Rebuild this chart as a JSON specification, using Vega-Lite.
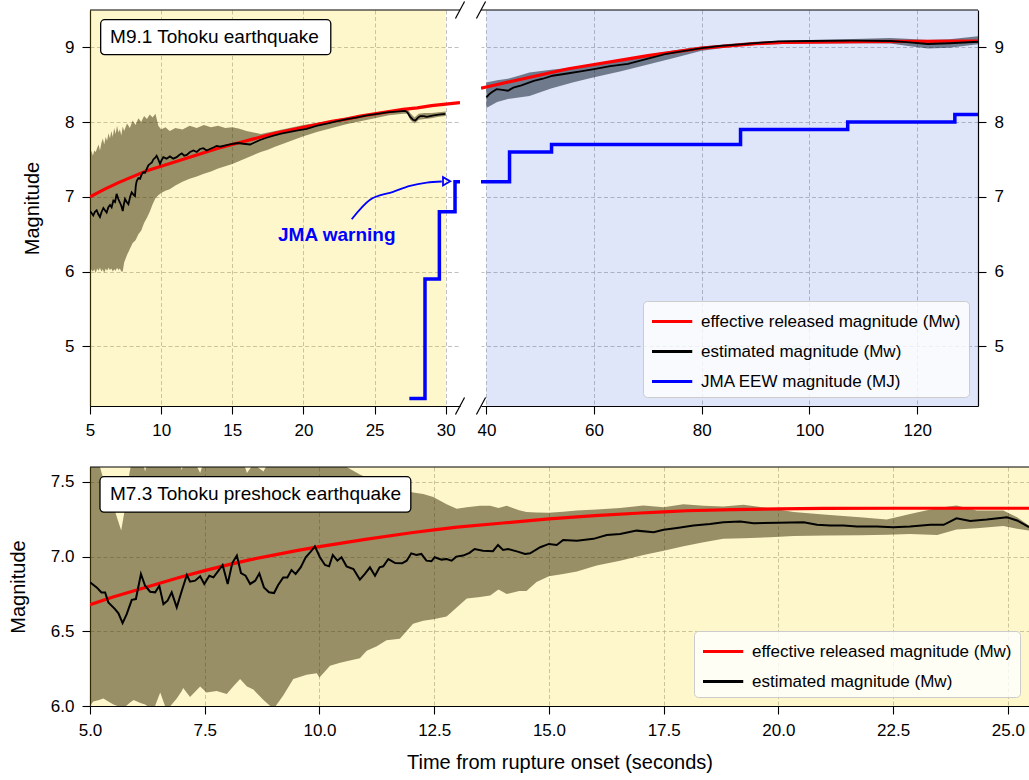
{
"$schema": "https://vega.github.io/schema/vega-lite/v6.json",
"background": "white",
"padding": {"left": 8, "top": 0, "right": 0, "bottom": 4},
"config": {
 "font": "Liberation Sans",
 "view": {"stroke": null},
 "axis": {"labelFontSize": 17, "labelColor": "black", "titleFontSize": 20, "titleFontWeight": "normal", "titleColor": "black", "tickColor": "black", "tickSize": 8, "tickWidth": 1.1, "domainColor": "black", "domainWidth": 1.2, "grid": true, "gridColor": "#b0b0b0", "gridDash": [4, 2.5], "gridWidth": 0.8, "labelPadding": 8, "titlePadding": 14, "labelFlush": false, "labelOverlap": false},
 "axisY": {"titlePadding": 22},
 "legend": {"symbolType": "M-1,0H2.5", "symbolSize": 529, "symbolStrokeWidth": 3, "labelFontSize": 17, "labelColor": "black", "fillColor": "rgba(255,255,255,0.8)", "strokeColor": "#cccccc", "cornerRadius": 4, "padding": 7.5, "rowPadding": 9, "labelOffset": 24.5, "labelLimit": 400, "offset": 9}
},
"datasets": {
 "effL": [{"t":5,"m":7.0},{"t":6,"m":7.1},{"t":7,"m":7.19},{"t":8,"m":7.27},{"t":9,"m":7.35},{"t":10,"m":7.41},{"t":11,"m":7.47},{"t":12,"m":7.53},{"t":13,"m":7.59},{"t":14,"m":7.65},{"t":15,"m":7.7},{"t":16,"m":7.75},{"t":17,"m":7.8},{"t":18,"m":7.85},{"t":19,"m":7.89},{"t":20,"m":7.93},{"t":21,"m":7.97},{"t":22,"m":8.01},{"t":23,"m":8.04},{"t":24,"m":8.08},{"t":25,"m":8.11},{"t":26,"m":8.14},{"t":27,"m":8.17},{"t":28,"m":8.19},{"t":29,"m":8.22},{"t":30,"m":8.24},{"t":31,"m":8.26}],
 "estL": [{"t":5.0,"m":6.81},{"t":5.12,"m":6.78},{"t":5.23,"m":6.75},{"t":5.35,"m":6.8},{"t":5.47,"m":6.82},{"t":5.58,"m":6.77},{"t":5.7,"m":6.73},{"t":5.82,"m":6.8},{"t":5.94,"m":6.85},{"t":6.05,"m":6.82},{"t":6.17,"m":6.79},{"t":6.29,"m":6.86},{"t":6.41,"m":6.89},{"t":6.52,"m":6.86},{"t":6.64,"m":6.95},{"t":6.76,"m":6.93},{"t":6.87,"m":7.04},{"t":6.99,"m":6.97},{"t":7.11,"m":6.92},{"t":7.2,"m":6.88},{"t":7.3,"m":6.81},{"t":7.38,"m":6.9},{"t":7.46,"m":6.97},{"t":7.58,"m":6.93},{"t":7.7,"m":6.9},{"t":7.82,"m":7.0},{"t":7.93,"m":7.06},{"t":8.05,"m":7.03},{"t":8.16,"m":7.01},{"t":8.22,"m":7.15},{"t":8.28,"m":7.21},{"t":8.4,"m":7.25},{"t":8.52,"m":7.24},{"t":8.63,"m":7.3},{"t":8.75,"m":7.33},{"t":8.86,"m":7.32},{"t":8.98,"m":7.37},{"t":9.1,"m":7.42},{"t":9.22,"m":7.44},{"t":9.35,"m":7.46},{"t":9.45,"m":7.5},{"t":9.57,"m":7.52},{"t":9.68,"m":7.55},{"t":9.8,"m":7.5},{"t":9.92,"m":7.44},{"t":10.03,"m":7.49},{"t":10.15,"m":7.53},{"t":10.38,"m":7.51},{"t":10.62,"m":7.54},{"t":10.85,"m":7.51},{"t":11.09,"m":7.53},{"t":11.27,"m":7.56},{"t":11.45,"m":7.58},{"t":11.62,"m":7.55},{"t":11.8,"m":7.56},{"t":12.03,"m":7.6},{"t":12.27,"m":7.62},{"t":12.5,"m":7.6},{"t":12.73,"m":7.64},{"t":12.96,"m":7.65},{"t":13.2,"m":7.62},{"t":13.43,"m":7.64},{"t":13.67,"m":7.66},{"t":13.9,"m":7.68},{"t":14.14,"m":7.67},{"t":14.6,"m":7.69},{"t":15.08,"m":7.71},{"t":15.4,"m":7.72},{"t":15.78,"m":7.71},{"t":16.25,"m":7.7},{"t":16.6,"m":7.73},{"t":16.95,"m":7.76},{"t":17.4,"m":7.79},{"t":17.89,"m":7.82},{"t":18.5,"m":7.85},{"t":19.06,"m":7.87},{"t":19.6,"m":7.89},{"t":20.23,"m":7.91},{"t":20.9,"m":7.95},{"t":21.64,"m":7.98},{"t":22.3,"m":8.01},{"t":23.05,"m":8.04},{"t":23.7,"m":8.06},{"t":24.45,"m":8.09},{"t":25.2,"m":8.11},{"t":25.86,"m":8.13},{"t":26.5,"m":8.14},{"t":27.15,"m":8.15},{"t":27.3,"m":8.13},{"t":27.5,"m":8.07},{"t":27.7,"m":8.03},{"t":27.86,"m":8.02},{"t":28.05,"m":8.06},{"t":28.21,"m":8.08},{"t":28.45,"m":8.08},{"t":28.68,"m":8.07},{"t":28.9,"m":8.08},{"t":29.15,"m":8.09},{"t":29.5,"m":8.1},{"t":29.97,"m":8.11}],
 "bandL": [{"t":5.0,"lo":6.05,"hi":7.5},{"t":5.1,"lo":6.02,"hi":7.62},{"t":5.2,"lo":6.0,"hi":7.55},{"t":5.3,"lo":6.03,"hi":7.62},{"t":5.4,"lo":5.98,"hi":7.6},{"t":5.5,"lo":6.04,"hi":7.65},{"t":5.6,"lo":6.01,"hi":7.7},{"t":5.7,"lo":6.05,"hi":7.62},{"t":5.8,"lo":6.0,"hi":7.72},{"t":5.9,"lo":6.03,"hi":7.78},{"t":6.0,"lo":5.98,"hi":7.7},{"t":6.1,"lo":6.04,"hi":7.8},{"t":6.2,"lo":6.01,"hi":7.75},{"t":6.3,"lo":6.05,"hi":7.85},{"t":6.4,"lo":6.02,"hi":7.78},{"t":6.5,"lo":6.04,"hi":7.88},{"t":6.6,"lo":6.0,"hi":7.8},{"t":6.7,"lo":6.03,"hi":7.92},{"t":6.8,"lo":6.01,"hi":7.84},{"t":6.9,"lo":6.05,"hi":7.95},{"t":7.0,"lo":6.02,"hi":7.86},{"t":7.1,"lo":6.04,"hi":7.9},{"t":7.2,"lo":6.0,"hi":7.82},{"t":7.3,"lo":6.0,"hi":7.94},{"t":7.4,"lo":6.12,"hi":7.88},{"t":7.6,"lo":6.22,"hi":7.98},{"t":7.8,"lo":6.3,"hi":7.92},{"t":8.0,"lo":6.38,"hi":8.02},{"t":8.2,"lo":6.42,"hi":7.96},{"t":8.4,"lo":6.5,"hi":8.05},{"t":8.6,"lo":6.55,"hi":8.0},{"t":8.8,"lo":6.65,"hi":8.08},{"t":9.0,"lo":6.72,"hi":8.04},{"t":9.2,"lo":6.8,"hi":8.1},{"t":9.4,"lo":6.9,"hi":8.06},{"t":9.6,"lo":6.98,"hi":8.11},{"t":9.8,"lo":7.02,"hi":7.95},{"t":10.0,"lo":7.05,"hi":7.9},{"t":10.3,"lo":7.08,"hi":7.93},{"t":10.6,"lo":7.1,"hi":7.88},{"t":11.0,"lo":7.15,"hi":7.92},{"t":11.5,"lo":7.2,"hi":7.9},{"t":12.0,"lo":7.24,"hi":7.95},{"t":12.5,"lo":7.27,"hi":7.92},{"t":13.0,"lo":7.31,"hi":7.96},{"t":13.5,"lo":7.34,"hi":7.93},{"t":14.0,"lo":7.38,"hi":7.95},{"t":14.5,"lo":7.41,"hi":7.92},{"t":15.0,"lo":7.44,"hi":7.93},{"t":15.5,"lo":7.48,"hi":7.91},{"t":16.0,"lo":7.52,"hi":7.88},{"t":16.5,"lo":7.56,"hi":7.86},{"t":17.0,"lo":7.6,"hi":7.84},{"t":17.5,"lo":7.63,"hi":7.86},{"t":18.0,"lo":7.67,"hi":7.88},{"t":19.0,"lo":7.74,"hi":7.92},{"t":20.0,"lo":7.81,"hi":7.96},{"t":21.0,"lo":7.87,"hi":7.99},{"t":22.0,"lo":7.92,"hi":8.02},{"t":23.0,"lo":7.97,"hi":8.06},{"t":24.0,"lo":8.01,"hi":8.09},{"t":25.0,"lo":8.05,"hi":8.12},{"t":26.0,"lo":8.09,"hi":8.15},{"t":27.0,"lo":8.11,"hi":8.17},{"t":27.3,"lo":8.11,"hi":8.18},{"t":27.5,"lo":8.03,"hi":8.12},{"t":27.8,"lo":7.98,"hi":8.06},{"t":28.1,"lo":8.03,"hi":8.11},{"t":28.5,"lo":8.04,"hi":8.12},{"t":29.0,"lo":8.05,"hi":8.12},{"t":29.5,"lo":8.07,"hi":8.13},{"t":30.0,"lo":8.08,"hi":8.14}],
 "jmaL": [{"t":27.44,"m":4.3},{"t":28.54,"m":5.9},{"t":29.55,"m":6.8},{"t":30.65,"m":7.2},{"t":31,"m":7.2}],
 "arrowL": [{"t":23.39,"m":6.7},{"t":24.68,"m":6.96},{"t":26.3,"m":7.067},{"t":27.49,"m":7.147},{"t":28.67,"m":7.19},{"t":29.72,"m":7.205}],
 "effR": [{"t":39,"m":8.455},{"t":40,"m":8.47},{"t":45,"m":8.55},{"t":50,"m":8.63},{"t":55,"m":8.71},{"t":60,"m":8.77},{"t":65,"m":8.83},{"t":70,"m":8.89},{"t":75,"m":8.94},{"t":80,"m":8.99},{"t":85,"m":9.02},{"t":90,"m":9.05},{"t":95,"m":9.065},{"t":100,"m":9.07},{"t":110,"m":9.078},{"t":120,"m":9.08},{"t":131.3,"m":9.085}],
 "estR": [{"t":40,"m":8.33},{"t":40.5,"m":8.37},{"t":41,"m":8.4},{"t":41.9,"m":8.44},{"t":43,"m":8.43},{"t":44,"m":8.42},{"t":45,"m":8.46},{"t":46.5,"m":8.49},{"t":48.8,"m":8.55},{"t":50.5,"m":8.58},{"t":52.3,"m":8.62},{"t":55,"m":8.65},{"t":57.5,"m":8.68},{"t":60,"m":8.71},{"t":63,"m":8.75},{"t":66.3,"m":8.78},{"t":70,"m":8.85},{"t":73.2,"m":8.91},{"t":76.5,"m":8.95},{"t":80,"m":8.99},{"t":83.5,"m":9.02},{"t":87.2,"m":9.04},{"t":90.5,"m":9.06},{"t":94.2,"m":9.08},{"t":100,"m":9.085},{"t":108,"m":9.09},{"t":115.1,"m":9.085},{"t":118,"m":9.07},{"t":122,"m":9.045},{"t":126,"m":9.055},{"t":131.3,"m":9.075}],
 "bandR": [{"t":40,"lo":8.19,"hi":8.53},{"t":42,"lo":8.27,"hi":8.56},{"t":44,"lo":8.31,"hi":8.58},{"t":46,"lo":8.33,"hi":8.62},{"t":48,"lo":8.35,"hi":8.665},{"t":52,"lo":8.45,"hi":8.7},{"t":56,"lo":8.53,"hi":8.73},{"t":60,"lo":8.6,"hi":8.76},{"t":65,"lo":8.68,"hi":8.82},{"t":70,"lo":8.77,"hi":8.9},{"t":75,"lo":8.86,"hi":8.96},{"t":80,"lo":8.955,"hi":9.01},{"t":85,"lo":9.0,"hi":9.045},{"t":90,"lo":9.03,"hi":9.075},{"t":95,"lo":9.045,"hi":9.09},{"t":100,"lo":9.05,"hi":9.1},{"t":110,"lo":9.055,"hi":9.115},{"t":115,"lo":9.05,"hi":9.125},{"t":118,"lo":9.02,"hi":9.115},{"t":122,"lo":8.985,"hi":9.1},{"t":126,"lo":8.995,"hi":9.11},{"t":131.3,"lo":9.04,"hi":9.15}],
 "jmaR": [{"t":39,"m":7.2},{"t":44.3,"m":7.6},{"t":52.1,"m":7.7},{"t":87.2,"m":7.9},{"t":107.1,"m":8.0},{"t":127.0,"m":8.1},{"t":131.3,"m":8.1}],
 "effB": [{"t":5,"m":6.678},{"t":5.5,"m":6.73},{"t":6,"m":6.775},{"t":6.5,"m":6.82},{"t":7,"m":6.865},{"t":7.5,"m":6.906},{"t":8,"m":6.945},{"t":8.5,"m":6.98},{"t":9,"m":7.01},{"t":9.5,"m":7.04},{"t":10,"m":7.067},{"t":11,"m":7.115},{"t":12,"m":7.16},{"t":12.5,"m":7.179},{"t":13,"m":7.197},{"t":14,"m":7.225},{"t":15,"m":7.253},{"t":16,"m":7.275},{"t":17,"m":7.292},{"t":17.5,"m":7.3},{"t":18,"m":7.307},{"t":19,"m":7.315},{"t":20,"m":7.32},{"t":21,"m":7.323},{"t":22.5,"m":7.324},{"t":25.46,"m":7.324}],
 "estB": [{"t":5.0,"m":6.828},{"t":5.145,"m":6.794},{"t":5.25,"m":6.76},{"t":5.33,"m":6.76},{"t":5.4,"m":6.693},{"t":5.545,"m":6.649},{"t":5.62,"m":6.62},{"t":5.71,"m":6.555},{"t":5.8,"m":6.615},{"t":5.91,"m":6.711},{"t":6.0,"m":6.716},{"t":6.11,"m":6.884},{"t":6.2,"m":6.805},{"t":6.31,"m":6.765},{"t":6.42,"m":6.761},{"t":6.51,"m":6.805},{"t":6.6,"m":6.682},{"t":6.69,"m":6.705},{"t":6.78,"m":6.761},{"t":6.89,"m":6.66},{"t":7.0,"m":6.772},{"t":7.11,"m":6.877},{"t":7.18,"m":6.832},{"t":7.29,"m":6.839},{"t":7.4,"m":6.868},{"t":7.49,"m":6.817},{"t":7.6,"m":6.872},{"t":7.69,"m":6.861},{"t":7.8,"m":6.906},{"t":7.89,"m":6.944},{"t":8.0,"m":6.817},{"t":8.1,"m":6.957},{"t":8.2,"m":7.007},{"t":8.29,"m":6.89},{"t":8.39,"m":6.872},{"t":8.49,"m":6.817},{"t":8.6,"m":6.839},{"t":8.69,"m":6.888},{"t":8.79,"m":6.794},{"t":8.9,"m":6.761},{"t":9.01,"m":6.756},{"t":9.1,"m":6.81},{"t":9.21,"m":6.861},{"t":9.3,"m":6.861},{"t":9.39,"m":6.91},{"t":9.48,"m":6.884},{"t":9.59,"m":6.928},{"t":9.7,"m":6.996},{"t":9.81,"m":7.034},{"t":9.9,"m":7.069},{"t":10.01,"m":6.996},{"t":10.12,"m":6.944},{"t":10.21,"m":6.935},{"t":10.29,"m":7.011},{"t":10.39,"m":6.973},{"t":10.48,"m":6.996},{"t":10.59,"m":6.935},{"t":10.74,"m":6.917},{"t":10.88,"m":6.846},{"t":10.99,"m":6.884},{"t":11.1,"m":6.928},{"t":11.21,"m":6.872},{"t":11.31,"m":6.928},{"t":11.39,"m":6.935},{"t":11.5,"m":6.984},{"t":11.65,"m":6.957},{"t":11.8,"m":6.955},{"t":11.9,"m":6.973},{"t":12.0,"m":7.022},{"t":12.11,"m":7.011},{"t":12.22,"m":7.018},{"t":12.33,"m":6.973},{"t":12.44,"m":6.969},{"t":12.51,"m":6.996},{"t":12.66,"m":6.98},{"t":12.77,"m":6.984},{"t":12.88,"m":6.973},{"t":12.98,"m":7.0},{"t":13.13,"m":7.007},{"t":13.27,"m":7.025},{"t":13.38,"m":7.051},{"t":13.56,"m":7.04},{"t":13.78,"m":7.036},{"t":13.89,"m":7.078},{"t":14.0,"m":7.045},{"t":14.11,"m":7.051},{"t":14.3,"m":7.035},{"t":14.48,"m":7.018},{"t":14.59,"m":7.022},{"t":14.81,"m":7.063},{"t":15.0,"m":7.085},{"t":15.17,"m":7.078},{"t":15.31,"m":7.112},{"t":15.61,"m":7.107},{"t":15.97,"m":7.119},{"t":16.26,"m":7.145},{"t":16.55,"m":7.152},{"t":16.91,"m":7.174},{"t":17.28,"m":7.163},{"t":17.5,"m":7.18},{"t":17.79,"m":7.192},{"t":18.15,"m":7.208},{"t":18.51,"m":7.219},{"t":18.8,"m":7.23},{"t":19.17,"m":7.235},{"t":19.46,"m":7.224},{"t":20.0,"m":7.226},{"t":20.55,"m":7.23},{"t":20.84,"m":7.213},{"t":21.13,"m":7.208},{"t":21.42,"m":7.208},{"t":21.71,"m":7.201},{"t":22.15,"m":7.201},{"t":22.5,"m":7.197},{"t":22.87,"m":7.201},{"t":23.31,"m":7.213},{"t":23.6,"m":7.213},{"t":23.88,"m":7.257},{"t":24.18,"m":7.239},{"t":24.54,"m":7.248},{"t":24.98,"m":7.264},{"t":25.2,"m":7.242},{"t":25.46,"m":7.197}],
 "bandB": [{"t":5.0,"lo":6.0,"hi":7.7},{"t":5.07,"lo":6.03,"hi":7.68},{"t":5.2,"lo":6.04,"hi":7.62},{"t":5.29,"lo":6.05,"hi":7.52},{"t":5.4,"lo":6.03,"hi":7.42},{"t":5.51,"lo":6.01,"hi":7.34},{"t":5.6,"lo":6.0,"hi":7.25},{"t":5.68,"lo":5.99,"hi":7.175},{"t":5.75,"lo":5.99,"hi":7.3},{"t":5.86,"lo":6.02,"hi":7.56},{"t":5.95,"lo":6.04,"hi":7.7},{"t":6.1,"lo":6.02,"hi":7.7},{"t":6.2,"lo":6.01,"hi":7.57},{"t":6.3,"lo":5.99,"hi":7.7},{"t":6.38,"lo":5.97,"hi":7.7},{"t":6.53,"lo":6.09,"hi":7.7},{"t":6.67,"lo":5.97,"hi":7.7},{"t":6.89,"lo":6.05,"hi":7.7},{"t":7.0,"lo":6.1,"hi":7.58},{"t":7.03,"lo":6.12,"hi":7.62},{"t":7.18,"lo":6.06,"hi":7.7},{"t":7.4,"lo":6.13,"hi":7.56},{"t":7.54,"lo":6.09,"hi":7.7},{"t":7.76,"lo":6.1,"hi":7.7},{"t":7.98,"lo":6.08,"hi":7.7},{"t":8.12,"lo":6.13,"hi":7.7},{"t":8.27,"lo":6.18,"hi":7.7},{"t":8.42,"lo":6.13,"hi":7.56},{"t":8.56,"lo":6.11,"hi":7.62},{"t":8.78,"lo":6.04,"hi":7.57},{"t":9.0,"lo":5.98,"hi":7.7},{"t":9.21,"lo":6.07,"hi":7.7},{"t":9.43,"lo":6.18,"hi":7.7},{"t":9.72,"lo":6.21,"hi":7.7},{"t":9.94,"lo":6.22,"hi":7.7},{"t":10.0,"lo":6.19,"hi":7.7},{"t":10.23,"lo":6.27,"hi":7.7},{"t":10.45,"lo":6.29,"hi":7.66},{"t":10.59,"lo":6.3,"hi":7.6},{"t":10.88,"lo":6.32,"hi":7.55},{"t":11.03,"lo":6.37,"hi":7.53},{"t":11.25,"lo":6.4,"hi":7.51},{"t":11.46,"lo":6.44,"hi":7.49},{"t":11.75,"lo":6.45,"hi":7.45},{"t":12.04,"lo":6.55,"hi":7.43},{"t":12.26,"lo":6.57,"hi":7.42},{"t":12.48,"lo":6.58,"hi":7.4},{"t":12.77,"lo":6.6,"hi":7.35},{"t":12.99,"lo":6.66,"hi":7.32},{"t":13.21,"lo":6.72,"hi":7.33},{"t":13.5,"lo":6.73,"hi":7.34},{"t":13.72,"lo":6.74,"hi":7.34},{"t":13.9,"lo":6.78,"hi":7.325},{"t":14.08,"lo":6.75,"hi":7.34},{"t":14.35,"lo":6.77,"hi":7.31},{"t":14.51,"lo":6.77,"hi":7.298},{"t":14.73,"lo":6.83,"hi":7.295},{"t":15.0,"lo":6.868,"hi":7.293},{"t":15.31,"lo":6.884,"hi":7.3},{"t":15.61,"lo":6.9,"hi":7.309},{"t":16.04,"lo":6.94,"hi":7.315},{"t":16.55,"lo":6.973,"hi":7.325},{"t":17.06,"lo":7.011,"hi":7.342},{"t":17.5,"lo":7.04,"hi":7.331},{"t":17.93,"lo":7.069,"hi":7.35},{"t":18.37,"lo":7.096,"hi":7.34},{"t":18.8,"lo":7.119,"hi":7.335},{"t":19.24,"lo":7.123,"hi":7.347},{"t":19.82,"lo":7.13,"hi":7.324},{"t":20.33,"lo":7.138,"hi":7.298},{"t":21.05,"lo":7.141,"hi":7.28},{"t":21.78,"lo":7.143,"hi":7.264},{"t":22.36,"lo":7.147,"hi":7.248},{"t":22.87,"lo":7.152,"hi":7.286},{"t":23.46,"lo":7.145,"hi":7.325},{"t":23.88,"lo":7.181,"hi":7.342},{"t":24.32,"lo":7.19,"hi":7.309},{"t":24.9,"lo":7.205,"hi":7.309},{"t":25.2,"lo":7.186,"hi":7.264},{"t":25.46,"lo":7.175,"hi":7.208}],
 "brkL": [{"x1":30.68,"x2":31.32,"y1":4.085,"y2":4.315},{"x1":30.68,"x2":31.32,"y1":9.385,"y2":9.615}],
 "brkR": [{"x1":38.15,"x2":39.85,"y1":4.085,"y2":4.315},{"x1":38.15,"x2":39.85,"y1":9.385,"y2":9.615}]
},
"spacing": 28,
"resolve": {"scale": {"x": "independent", "y": "independent", "color": "independent"}},
"vconcat": [
 {
  "spacing": 21,
  "bounds": "flush",
  "resolve": {"scale": {"x": "independent", "y": "independent", "color": "independent"}},
  "hconcat": [
   {
    "width": 370, "height": 396,
    "layer": [
     {"data": {"values": [{}]}, "mark": {"type": "rect", "color": "#ffd700", "opacity": 0.2},
      "encoding": {"x": {"datum": 5, "type": "quantitative", "scale": {"domain": [5, 31], "nice": false, "zero": false}, "axis": {"values": [5, 10, 15, 20, 25, 30], "format": "d", "title": null}}, "x2": {"datum": 30}}},
     {"data": {"name": "bandL"}, "mark": {"type": "area", "color": "#312700", "opacity": 0.5, "clip": true},
      "encoding": {"x": {"field": "t", "type": "quantitative"}, "y": {"field": "lo", "type": "quantitative", "scale": {"domain": [4.2, 9.5], "nice": false, "zero": false}, "axis": {"values": [5, 6, 7, 8, 9], "format": "d", "title": "Magnitude"}}, "y2": {"field": "hi"}}},
     {"data": {"values": [{}]}, "mark": {"type": "rule", "color": "black", "strokeWidth": 1.2}, "encoding": {"y": {"datum": 9.5}}},
     {"data": {"name": "effL"}, "mark": {"type": "line", "strokeWidth": 3.2, "clip": true},
      "encoding": {"x": {"field": "t", "type": "quantitative"}, "y": {"field": "m", "type": "quantitative"}, "color": {"datum": "effective released magnitude (Mw)", "scale": {"domain": ["effective released magnitude (Mw)", "estimated magnitude (Mw)", "JMA EEW magnitude (MJ)"], "range": ["#ff0000", "#000000", "#0000ff"]}, "legend": null}}},
     {"data": {"name": "estL"}, "mark": {"type": "line", "strokeWidth": 1.8, "clip": true},
      "encoding": {"x": {"field": "t", "type": "quantitative"}, "y": {"field": "m", "type": "quantitative"}, "color": {"datum": "estimated magnitude (Mw)", "legend": null}}},
     {"data": {"name": "jmaL"}, "mark": {"type": "line", "strokeWidth": 3.5, "interpolate": "step-after", "clip": true},
      "encoding": {"x": {"field": "t", "type": "quantitative"}, "y": {"field": "m", "type": "quantitative"}, "color": {"datum": "JMA EEW magnitude (MJ)", "legend": null}}},
     {"data": {"name": "arrowL"}, "mark": {"type": "line", "color": "#0000ff", "strokeWidth": 1.8, "interpolate": "monotone"},
      "encoding": {"x": {"field": "t", "type": "quantitative"}, "y": {"field": "m", "type": "quantitative"}}},
     {"data": {"values": [{"t": 30.06, "m": 7.207}]}, "mark": {"type": "point", "shape": "triangle-right", "size": 70, "filled": false, "color": "#0000ff", "strokeWidth": 1.8, "opacity": 1},
      "encoding": {"x": {"field": "t", "type": "quantitative"}, "y": {"field": "m", "type": "quantitative"}}},
     {"data": {"values": [{"t": 18.21, "m": 6.41, "label": "JMA warning"}]}, "mark": {"type": "text", "align": "left", "baseline": "alphabetic", "fontSize": 19, "fontWeight": "bold", "color": "#0000ff"},
      "encoding": {"x": {"field": "t", "type": "quantitative"}, "y": {"field": "m", "type": "quantitative"}, "text": {"field": "label"}}},
     {"data": {"values": [{"t1": 5.75, "t2": 21.92, "m1": 8.902, "m2": 9.37}]}, "mark": {"type": "rect", "fill": "white", "stroke": "black", "strokeWidth": 1.3, "cornerRadius": 4},
      "encoding": {"x": {"field": "t1", "type": "quantitative"}, "x2": {"field": "t2"}, "y": {"field": "m1", "type": "quantitative"}, "y2": {"field": "m2"}}},
     {"data": {"values": [{"t": 6.41, "m": 9.06, "label": "M9.1 Tohoku earthquake"}]}, "mark": {"type": "text", "align": "left", "baseline": "alphabetic", "fontSize": 19, "color": "black"},
      "encoding": {"x": {"field": "t", "type": "quantitative"}, "y": {"field": "m", "type": "quantitative"}, "text": {"field": "label"}}},
     {"data": {"name": "brkL"}, "mark": {"type": "rule", "color": "black", "strokeWidth": 1.2},
      "encoding": {"x": {"field": "x1", "type": "quantitative"}, "x2": {"field": "x2"}, "y": {"field": "y1", "type": "quantitative"}, "y2": {"field": "y2"}}}
    ]
   },
   {
    "width": 497, "height": 396,
    "layer": [
     {"data": {"values": [{}]}, "mark": {"type": "rect", "color": "#4169e1", "opacity": 0.17},
      "encoding": {"x": {"datum": 40, "type": "quantitative", "scale": {"domain": [39, 131.3], "nice": false, "zero": false}, "axis": {"values": [40, 60, 80, 100, 120], "format": "d", "title": null}}, "x2": {"datum": 131.3}}},
     {"data": {"name": "bandR"}, "mark": {"type": "area", "color": "#020e20", "opacity": 0.5, "clip": true},
      "encoding": {"x": {"field": "t", "type": "quantitative"}, "y": {"field": "lo", "type": "quantitative", "scale": {"domain": [4.2, 9.5], "nice": false, "zero": false}, "axis": {"orient": "right", "values": [5, 6, 7, 8, 9], "format": "d", "title": null}}, "y2": {"field": "hi"}}},
     {"data": {"values": [{}]}, "mark": {"type": "rule", "color": "black", "strokeWidth": 1.2}, "encoding": {"y": {"datum": 9.5}}},
     {"data": {"name": "effR"}, "mark": {"type": "line", "strokeWidth": 3.2, "clip": true},
      "encoding": {"x": {"field": "t", "type": "quantitative"}, "y": {"field": "m", "type": "quantitative"}, "color": {"datum": "effective released magnitude (Mw)", "scale": {"domain": ["effective released magnitude (Mw)", "estimated magnitude (Mw)", "JMA EEW magnitude (MJ)"], "range": ["#ff0000", "#000000", "#0000ff"]}, "legend": {"orient": "bottom-right", "title": null}}}},
     {"data": {"name": "estR"}, "mark": {"type": "line", "strokeWidth": 1.8, "clip": true},
      "encoding": {"x": {"field": "t", "type": "quantitative"}, "y": {"field": "m", "type": "quantitative"}, "color": {"datum": "estimated magnitude (Mw)"}}},
     {"data": {"name": "jmaR"}, "mark": {"type": "line", "strokeWidth": 3.5, "interpolate": "step-after", "clip": true},
      "encoding": {"x": {"field": "t", "type": "quantitative"}, "y": {"field": "m", "type": "quantitative"}, "color": {"datum": "JMA EEW magnitude (MJ)"}}},
     {"data": {"name": "brkR"}, "mark": {"type": "rule", "color": "black", "strokeWidth": 1.2},
      "encoding": {"x": {"field": "x1", "type": "quantitative"}, "x2": {"field": "x2"}, "y": {"field": "y1", "type": "quantitative"}, "y2": {"field": "y2"}}}
    ]
   }
  ]
 },
 {
  "width": 939, "height": 239,
  "layer": [
   {"data": {"values": [{}]}, "mark": {"type": "rect", "color": "#ffd700", "opacity": 0.2},
    "encoding": {"x": {"datum": 5, "type": "quantitative", "scale": {"domain": [5, 25.46], "nice": false, "zero": false}, "axis": {"values": [5, 7.5, 10, 12.5, 15, 17.5, 20, 22.5, 25], "format": ".1f", "title": "Time from rupture onset (seconds)"}}, "x2": {"datum": 25.46}}},
   {"data": {"name": "bandB"}, "mark": {"type": "area", "color": "#312700", "opacity": 0.5, "clip": true},
    "encoding": {"x": {"field": "t", "type": "quantitative"}, "y": {"field": "lo", "type": "quantitative", "scale": {"domain": [6.0, 7.6], "nice": false, "zero": false}, "axis": {"values": [6.0, 6.5, 7.0, 7.5], "format": ".1f", "title": "Magnitude"}}, "y2": {"field": "hi"}}},
   {"data": {"values": [{}]}, "mark": {"type": "rule", "color": "black", "strokeWidth": 1.2}, "encoding": {"y": {"datum": 7.6}}},
   {"data": {"name": "effB"}, "mark": {"type": "line", "strokeWidth": 3.2, "clip": true},
    "encoding": {"x": {"field": "t", "type": "quantitative"}, "y": {"field": "m", "type": "quantitative"}, "color": {"datum": "effective released magnitude (Mw)", "scale": {"domain": ["effective released magnitude (Mw)", "estimated magnitude (Mw)"], "range": ["#ff0000", "#000000"]}, "legend": {"orient": "bottom-right", "title": null}}}},
   {"data": {"name": "estB"}, "mark": {"type": "line", "strokeWidth": 2, "clip": true},
    "encoding": {"x": {"field": "t", "type": "quantitative"}, "y": {"field": "m", "type": "quantitative"}, "color": {"datum": "estimated magnitude (Mw)"}}},
   {"data": {"values": [{"t1": 5.218, "t2": 11.99, "m1": 7.298, "m2": 7.535}]}, "mark": {"type": "rect", "fill": "white", "stroke": "black", "strokeWidth": 1.3, "cornerRadius": 4},
    "encoding": {"x": {"field": "t1", "type": "quantitative"}, "x2": {"field": "t2"}, "y": {"field": "m1", "type": "quantitative"}, "y2": {"field": "m2"}}},
   {"data": {"values": [{"t": 5.436, "m": 7.376, "label": "M7.3 Tohoku preshock earthquake"}]}, "mark": {"type": "text", "align": "left", "baseline": "alphabetic", "fontSize": 19, "color": "black"},
    "encoding": {"x": {"field": "t", "type": "quantitative"}, "y": {"field": "m", "type": "quantitative"}, "text": {"field": "label"}}}
  ]
 }
]
}
